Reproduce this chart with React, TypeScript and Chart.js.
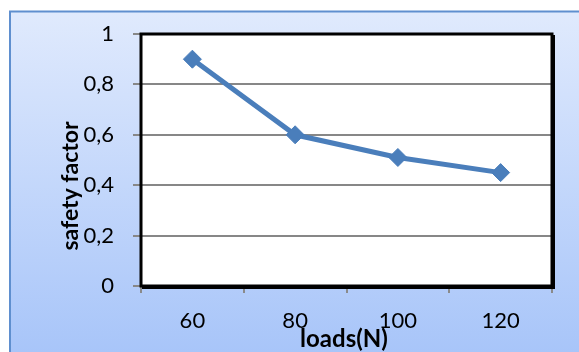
import React, { useEffect, useRef } from 'react';
import { Chart, registerables } from 'chart.js';

Chart.register(...registerables);

const categories = ['60', '80', '100', '120'];
const safetyFactor = [0.9, 0.6, 0.51, 0.45];
const yTickLabels = ['0', '0,2', '0,4', '0,6', '0,8', '1'];
const xTitle = 'loads(N)';
const yTitle = 'safety factor';

const framePlugin = {
  id: 'frame',
  beforeDraw(chart: any) {
    const { ctx, width, height, chartArea } = chart;
    ctx.save();
    ctx.fillStyle = '#ffffff';
    ctx.fillRect(0, 0, width, height);
    const g = ctx.createLinearGradient(0, 11, 0, height);
    g.addColorStop(0, '#e0eafd');
    g.addColorStop(1, '#a8c5f9');
    ctx.fillStyle = g;
    ctx.fillRect(9, 11, width, height);
    ctx.strokeStyle = '#5f8fcf';
    ctx.lineWidth = 2;
    ctx.beginPath();
    ctx.moveTo(10, height + 5);
    ctx.lineTo(10, 11.5);
    ctx.lineTo(width + 5, 11.5);
    ctx.stroke();
    ctx.fillStyle = '#ffffff';
    ctx.fillRect(chartArea.left, chartArea.top, chartArea.right - chartArea.left, chartArea.bottom - chartArea.top);
    ctx.restore();
  },
  afterDatasetsDraw(chart: any) {
    const { ctx, chartArea } = chart;
    const { left, top, right, bottom } = chartArea;
    ctx.save();
    ctx.strokeStyle = '#000000';
    ctx.lineWidth = 3;
    ctx.strokeRect(left, top, right - left, bottom - top);
    // shadow on right and bottom edges
    ctx.lineWidth = 2;
    ctx.beginPath();
    ctx.moveTo(right + 2, top + 1);
    ctx.lineTo(right + 2, bottom + 2);
    ctx.lineTo(left + 1, bottom + 2);
    ctx.stroke();
    ctx.fillStyle = '#000000';
    ctx.font = 'bold 24px Lato';
    ctx.textAlign = 'center';
    ctx.textBaseline = 'alphabetic';
    ctx.fillText(xTitle, 344, 347);
    ctx.font = 'bold 23px Lato';
    ctx.textBaseline = 'middle';
    ctx.translate(71, 186);
    ctx.rotate(-Math.PI / 2);
    ctx.fillText(yTitle, 0, 0);
    ctx.restore();
  },
};

export default function App() {
  const ref = useRef<HTMLCanvasElement | null>(null);
  useEffect(() => {
    if (!ref.current) return;
    const chart = new Chart(ref.current, {
      type: 'line',
      data: {
        labels: categories,
        datasets: [
          {
            data: safetyFactor,
            borderColor: '#4a7ebb',
            backgroundColor: '#4a7ebb',
            borderWidth: 5,
            pointStyle: 'rectRot',
            pointRadius: 9,
            pointBorderWidth: 1,
            pointBorderColor: '#4a7ebb',
            pointBackgroundColor: '#4a7ebb',
            tension: 0,
          },
        ],
      },
      options: {
        responsive: false,
        animation: false,
        layout: { padding: { left: 0, top: 34, right: 27, bottom: 0 } },
        plugins: { legend: { display: false }, tooltip: { enabled: false } },
        scales: {
          x: {
            type: 'category',
            offset: true,
            grid: {
              offset: true,
              drawOnChartArea: false,
              drawTicks: true,
              tickLength: 7,
              color: '#8a8a8a',
              lineWidth: 2,
            },
            border: { display: false },
            ticks: {
              font: { family: 'Lato', size: 22 },
              color: '#000000',
              padding: 15,
              maxRotation: 0,
            },
            afterFit: (s: any) => {
              s.height = 66;
            },
          },
          y: {
            min: 0,
            max: 1,
            grid: { color: '#878787', lineWidth: 2, tickLength: 8 },
            border: { display: false },
            ticks: {
              stepSize: 0.2,
              callback: (v: any) => yTickLabels[Math.round(Number(v) / 0.2)],
              font: { family: 'Lato', size: 22 },
              color: '#000000',
              padding: 19,
            },
            afterFit: (s: any) => {
              s.width = 141;
            },
          },
        },
      },
      plugins: [framePlugin],
    });
    return () => chart.destroy();
  }, []);
  return (
    <div style={{ position: 'fixed', left: 0, top: 0, width: 579, height: 352 }}>
      <canvas ref={ref} width={579} height={352} />
    </div>
  );
}
